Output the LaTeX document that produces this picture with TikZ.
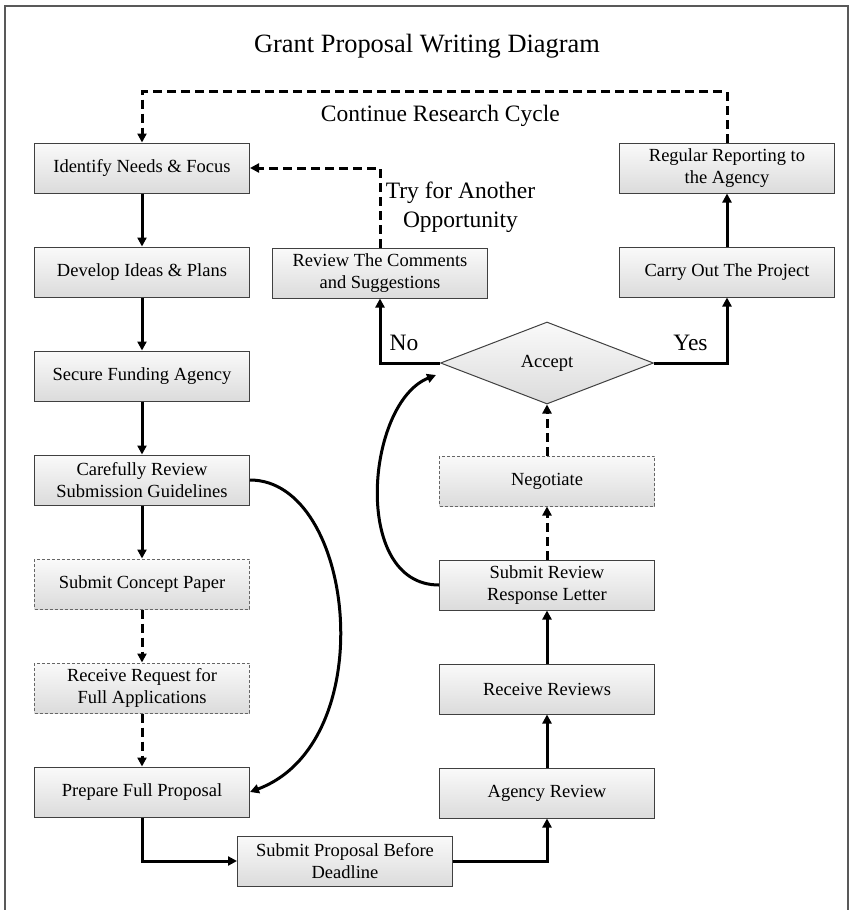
\documentclass[tikz,border=0pt]{standalone}
\usepackage{fontspec}
\setmainfont{Liberation Serif}
\usepackage{tikz}
\usetikzlibrary{positioning, shapes.geometric, arrows.meta}
\tikzset{
x=1pt, y=-1pt, % one unit is one pixel of the sketch, y grows downwards
>={Triangle[length=9pt,width=9pt]}, % makes the arrow heads solid
node distance=104pt, % distance between the centres of two boxes in a column
stepbox/.style={draw=black!75, line width=1pt, top color=black!2, bottom color=black!14,
  minimum width=215pt, minimum height=50pt, inner sep=2pt, align=center,
  font=\fontsize{18.5}{22}\selectfont}, % an ordinary step
optbox/.style={stepbox, draw=black!60, dash pattern=on 3pt off 2pt}, % an optional step
decide/.style={diamond, draw=black!75, line width=1pt, top color=black!2, bottom color=black!14,
  minimum width=213pt, minimum height=82pt, inner sep=0pt,
  font=\fontsize{18.5}{22}\selectfont}, % the decision
flow/.style={->, line width=3pt}, % solid connector
maybe/.style={flow, dash pattern=on 9pt off 5pt}, % dashed connector
note/.style={font=\fontsize{23.5}{29}\selectfont, align=center}, % text beside the connectors
frame/.style={draw=black!65, line width=1.6pt},
}

\begin{document}
\begin{tikzpicture}
    \useasboundingbox (0,0) rectangle (853,910);
    \draw[frame] (5,6) rectangle (848,940);
    \node[font=\fontsize{26.4}{30}\selectfont] (title) at (427,46) {Grant Proposal Writing Diagram};

    % left column
    \node[stepbox] (ident) at (142,168) {Identify Needs \& Focus};
    \node[stepbox, below of=ident] (ideas) {Develop Ideas \& Plans};
    \node[stepbox, below of=ideas] (fund) {Secure Funding Agency};
    \node[stepbox, below of=fund] (guide) {Carefully Review\\Submission Guidelines};
    \node[optbox, below of=guide] (concept) {Submit Concept Paper};
    \node[optbox, below of=concept] (request) {Receive Request for\\Full Applications};
    \node[stepbox, below of=request] (prep) {Prepare Full Proposal};
    \node[stepbox] (submit) at (345,861) {Submit Proposal Before\\Deadline};

    % right column
    \node[stepbox] (agency) at (547,793) {Agency Review};
    \node[stepbox, above of=agency] (reviews) {Receive Reviews};
    \node[stepbox, above of=reviews] (letter) {Submit Review\\Response Letter};
    \node[optbox, above of=letter] (nego) {Negotiate};
    \node[decide, above of=nego, node distance=118pt] (accept) {Accept};
    \node[stepbox] (comments) at (380,273) {Review The Comments\\and Suggestions};
    \node[stepbox] (project) at (727,272) {Carry Out The Project};
    \node[stepbox, above of=project] (report) {Regular Reporting to\\the Agency};
    \coordinate (acctip) at ([xshift=-4pt,yshift=-12pt]accept.west);

    \draw[flow] (ident) edge (ideas)
                (ideas) edge (fund)
                (fund) edge (guide)
                (guide) edge (concept);
    \draw[maybe] (concept) edge (request)
                 (request) edge (prep);
    \draw[flow] (guide.east) .. controls +(105,0) and +(133,-50) .. (prep.east);
    \draw[flow] (prep.south) |- (submit.west);
    \draw[flow] (submit.east) -| (agency.south);
    \draw[flow] (agency) edge (reviews)
                (reviews) edge (letter);
    \draw[maybe] (letter) edge (nego)
                 (nego) edge (accept);
    \draw[flow] (letter.west) .. controls +(-88,0) and +(-70,28) .. (acctip);
    \draw[flow] (accept.west) -| node[note, pos=0.3, above=7pt] {No} (comments.south);
    \draw[flow] (accept.east) -| node[note, pos=0.25, above=7pt] {Yes} (project.south);
    \draw[flow] (project) -- (report);
    \draw[maybe] (comments.north) |- node[note, pos=0.25, right=1pt] {Try for Another\\Opportunity} (ident.east);
    \draw[maybe] (report.north) -- ++(0,-51) -| node[note, pos=0.245, below=9pt] {Continue Research Cycle} (ident.north);
\end{tikzpicture}
\end{document}
